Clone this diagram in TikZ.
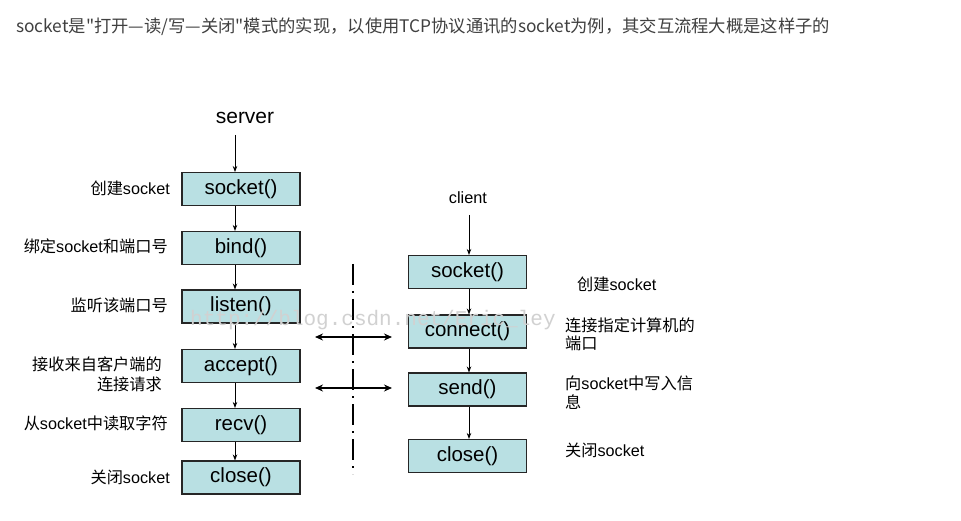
\documentclass[tikz,border=0pt]{standalone}
\usepackage{fontspec}
\setmainfont{Liberation Sans}
\newfontfamily\cjk{Noto Sans CJK SC}
\newfontfamily\wmfont{Liberation Mono}
\usetikzlibrary{arrows.meta}
\definecolor{boxcyan}{RGB}{185,224,227}
\definecolor{titlegray}{RGB}{64,64,64}
\begin{document}
\begin{tikzpicture}[x=1pt,y=-1pt,
  fbox/.style={draw=black!85, line width=1.1pt, fill=boxcyan, minimum width=118pt, minimum height=33pt, inner sep=0pt, font=\fontsize{20.5}{22}\selectfont},
  lbl/.style={font=\fontsize{16.2}{18}\selectfont, inner sep=0pt},
  flow/.style={draw=black, line width=0.8pt, -{Stealth[length=6pt,width=4.5pt]}},
  bidir/.style={draw=black, line width=1.8pt, {Stealth[length=8pt,width=7pt]}-{Stealth[length=8pt,width=7pt]}},
  sep/.style={draw=black, line width=1.5pt, dash pattern=on 21pt off 6pt on 2pt off 6pt}
]
\useasboundingbox[fill=white] (0,0) rectangle (961,521);

% title
\node[anchor=west, inner sep=0pt, text=titlegray, font=\cjk\fontsize{17.3}{20}\selectfont] (title) at (16,27)
  {socket是"打开—读/写—关闭"模式的实现，以使用TCP协议通讯的socket为例，其交互流程大概是这样子的};

% server column
\node[font=\fontsize{21}{24}\selectfont, inner sep=0pt] (server) at (245,118) {server};
\node[fbox] (s1) at (241,189) {socket()};
\node[fbox] (s2) at (241,248) {bind()};
\node[fbox] (s3) at (241,306.5) {listen()};
\node[fbox] (s4) at (241,366) {accept()};
\node[fbox] (s5) at (241,425) {recv()};
\node[fbox] (s6) at (241,477.5) {close()};

\coordinate (stop) at (235,135);
\draw[flow] (stop) -- (235,172);
\draw[flow] (s1.south -| stop) -- (s2.north -| stop);
\draw[flow] (s2.south -| stop) -- (s3.north -| stop);
\draw[flow] (s3.south -| stop) -- (s4.north -| stop);
\draw[flow] (s4.south -| stop) -- (s5.north -| stop);
\draw[flow] (s5.south -| stop) -- (s6.north -| stop);

% server labels
\node[lbl, anchor=east] (l1) at (170,188) {{\cjk 创建}socket};
\node[lbl, anchor=east] (l2) at (168,246) {{\cjk 绑定}socket{\cjk 和端口号}};
\node[lbl, anchor=east] (l3) at (168,305) {\cjk 监听该端口号};
\node[lbl, anchor=east] (l4a) at (162,364) {\cjk 接收来自客户端的};
\node[lbl, anchor=east] (l4b) at (162,384) {\cjk 连接请求};
\node[lbl, anchor=east] (l5) at (168,423) {{\cjk 从}socket{\cjk 中读取字符}};
\node[lbl, anchor=east] (l6) at (170,477) {{\cjk 关闭}socket};

% client column
\node[font=\fontsize{16.3}{18}\selectfont, inner sep=0pt] (client) at (468,198) {client};
\node[fbox] (c1) at (467.5,272) {socket()};
\node[fbox] (c2) at (467.5,331.5) {connect()};
\node[fbox] (c3) at (467.5,389.5) {send()};
\node[fbox] (c4) at (467.5,456) {close()};

\coordinate (ctop) at (469,215);
\draw[flow] (ctop) -- (c1.north -| ctop);
\draw[flow] (c1.south -| ctop) -- (c2.north -| ctop);
\draw[flow] (c2.south -| ctop) -- (c3.north -| ctop);
\draw[flow] (c3.south -| ctop) -- (c4.north -| ctop);

% client labels
\node[lbl, anchor=west] (r1) at (577,284) {{\cjk 创建}socket};
\node[lbl, anchor=west] (r2a) at (565,325) {\cjk 连接指定计算机的};
\node[lbl, anchor=west] (r2b) at (565,343) {\cjk 端口};
\node[lbl, anchor=west] (r3a) at (565,383) {{\cjk 向}socket{\cjk 中写入信}};
\node[lbl, anchor=west] (r3b) at (565,402) {\cjk 息};
\node[lbl, anchor=west] (r4) at (565,450) {{\cjk 关闭}socket};

% separator and exchanges
\coordinate (septop) at (353,264);
\coordinate (sepbot) at (353,474);
\draw[sep] (septop) -- (sepbot);
\coordinate (a1l) at (315,337);
\coordinate (a1r) at (392,337);
\coordinate (a2l) at (315,388);
\coordinate (a2r) at (392,388);
\draw[bidir] (a1l) -- (a1r);
\draw[bidir] (a2l) -- (a2r);

% watermark
\node[anchor=base west, inner sep=0pt, text=black!18, font=\wmfont\fontsize{21}{24}\selectfont] (wm) at (190,326) {http://blog.csdn.net/Eric\_ley};
\end{tikzpicture}
\end{document}
